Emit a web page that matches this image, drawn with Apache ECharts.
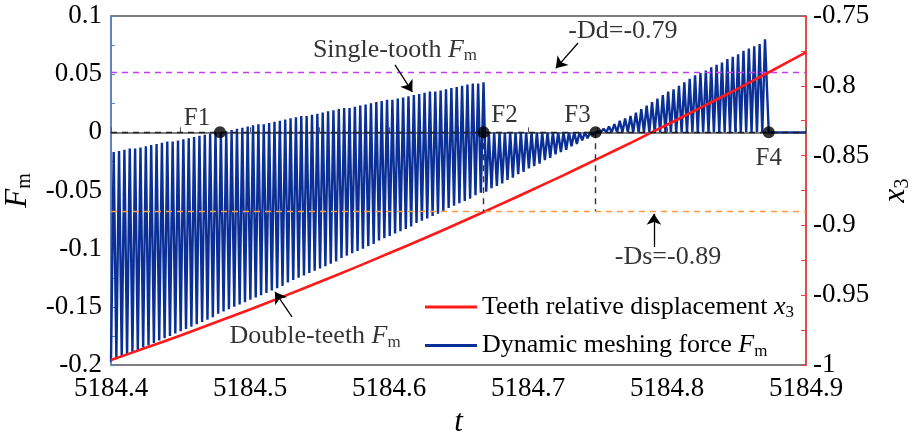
<!DOCTYPE html>
<html>
<head>
<meta charset="utf-8">
<script src="https://cdn.jsdelivr.net/npm/echarts@6/dist/echarts.min.js"></script>
<style>
  html, body { margin: 0; padding: 0; background: #fff; }
  #chart { width: 917px; height: 434px; }
</style>
</head>
<body>
<div id="chart"></div>
<script>
const FONT = 'Liberation Serif, Times New Roman, serif';

// Axis ranges
const tRange = [5184.4, 5184.9];
const forceRange = [-0.2, 0.1];
const dispRange = [-1, -0.75];

// Teeth relative displacement x3 (right axis)
const dispT = [5184.400, 5184.425, 5184.450, 5184.475, 5184.500, 5184.525, 5184.550,
  5184.575, 5184.600, 5184.625, 5184.650, 5184.675, 5184.700, 5184.725, 5184.750,
  5184.775, 5184.800, 5184.825, 5184.850, 5184.875, 5184.900];
const dispX3 = [-0.9964, -0.9877, -0.9788, -0.9696, -0.9602, -0.9505, -0.9406,
  -0.9304, -0.9200, -0.9094, -0.8985, -0.8873, -0.8759, -0.8643, -0.8524,
  -0.8403, -0.8279, -0.8153, -0.8025, -0.7894, -0.7760];

// Key meshing instants F1..F4 (all at Fm = 0) and the last single-tooth peak
const pointNames = ['F1', 'F2', 'F3', 'F4'];
const pointT = [5184.4784, 5184.6680, 5184.7486, 5184.8732];
const lastPeakT = 5184.8705;

// Dynamic meshing force, extremes of every mesh cycle
// stage 1 (start .. F2): single-tooth peaks and double-teeth troughs
const stage1Peak = [
  -0.017, -0.016, -0.015, -0.014, -0.014, -0.013, -0.012, -0.011, -0.010, -0.009,
  -0.008, -0.008, -0.007, -0.006, -0.005, -0.004, -0.003, -0.002, -0.001, 0.000,
  0.000, 0.001, 0.002, 0.003, 0.004, 0.005, 0.006, 0.007, 0.007, 0.008,
  0.009, 0.010, 0.011, 0.012, 0.013, 0.014, 0.014, 0.015, 0.016, 0.017,
  0.018, 0.019, 0.020, 0.021, 0.021, 0.022, 0.023, 0.024, 0.025, 0.026,
  0.027, 0.028, 0.028, 0.029, 0.030, 0.031, 0.032, 0.033, 0.034, 0.035,
  0.035, 0.036, 0.037, 0.038, 0.039, 0.040, 0.041, 0.042, 0.042, 0.043];
const stage1Trough = [
  -0.197, -0.195, -0.193, -0.191, -0.189, -0.187, -0.185, -0.183, -0.181, -0.179,
  -0.177, -0.175, -0.173, -0.171, -0.169, -0.167, -0.165, -0.163, -0.161, -0.159,
  -0.156, -0.154, -0.152, -0.150, -0.148, -0.146, -0.144, -0.142, -0.140, -0.138,
  -0.136, -0.134, -0.132, -0.129, -0.127, -0.125, -0.123, -0.121, -0.119, -0.117,
  -0.115, -0.113, -0.111, -0.108, -0.106, -0.104, -0.102, -0.100, -0.098, -0.096,
  -0.093, -0.091, -0.089, -0.087, -0.085, -0.083, -0.081, -0.078, -0.076, -0.074,
  -0.072, -0.070, -0.068, -0.065, -0.063, -0.061, -0.059, -0.057, -0.054, -0.052];
// stage 2 (F2 .. F3): troughs below zero, tops on zero
const stage2Trough = [-0.051, -0.048, -0.046, -0.044, -0.041, -0.039, -0.036,
  -0.034, -0.031, -0.029, -0.027, -0.024, -0.022, -0.019, -0.017, -0.015,
  -0.012, -0.010, -0.007, -0.005, -0.002];
// stage 3 (F3 .. F4): peaks above zero, troughs on zero
const stage3Peak = [0.001, 0.003, 0.005, 0.007, 0.010, 0.012, 0.014, 0.017,
  0.020, 0.023, 0.026, 0.029, 0.032, 0.035, 0.037, 0.040, 0.043, 0.046,
  0.049, 0.051, 0.053, 0.056, 0.058, 0.060, 0.063, 0.065, 0.067, 0.070,
  0.072, 0.074, 0.076, 0.080];

// Backlash limits on the displacement axis
const ddLevel = -0.79;
const dsLevel = -0.89;

// ---- build the force trace from the cycle extremes ----
const [f1, f2, f3, f4] = pointT;
const force = [];
const p1 = (f2 - tRange[0]) / (stage1Peak.length - 0.5);
stage1Peak.forEach((pk, i) => {
  force.push([tRange[0] + i * p1, stage1Trough[i]]);
  force.push([tRange[0] + (i + 0.5) * p1, pk]);
});
const p2 = (f3 - f2) / stage2Trough.length;
stage2Trough.forEach((tr, j) => {
  force.push([f2 + (j + 0.5) * p2, tr]);
  force.push([f2 + (j + 1) * p2, 0]);
});
const p3 = (lastPeakT - f3) / (stage3Peak.length - 0.5);
stage3Peak.forEach((pk, k) => {
  if (k > 0) force.push([f3 + k * p3, 0]);
  force.push([f3 + (k + 0.5) * p3, pk]);
});
force.push([f4, 0], [tRange[1], 0]);

const disp = dispT.map((t, i) => [t, dispX3[i]]);

// a displacement level expressed on the force axis (both axes share the plot height)
const dispToForce = v => forceRange[0] +
  (forceRange[1] - forceRange[0]) * (v - dispRange[0]) / (dispRange[1] - dispRange[0]);
const dsOnForce = dispToForce(dsLevel);

const RICH = {
  i: { fontFamily: FONT, fontStyle: 'italic', fontSize: 26, color: '#000' },
  s: { fontFamily: FONT, fontSize: 17, color: '#000', padding: [12, 0, 0, 0] }
};
const RICH_BIG = {
  i: { fontFamily: FONT, fontStyle: 'italic', fontSize: 31, color: '#000' },
  s: { fontFamily: FONT, fontSize: 20, color: '#000', padding: [14, 0, 0, 0] }
};

const RED_NAME = 'Teeth relative displacement x3';
const BLUE_NAME = 'Dynamic meshing force Fm';

// annotation texts and arrows, placed in (t, Fm) coordinates
const notes = [
  { text: 'Single-tooth {i|F}{s|m}', at: [5184.6043, 0.0708] },
  { text: '-Dd=-0.79', at: [5184.7683, 0.0871] },
  { text: '-Ds=-0.89', at: [5184.8007, -0.1072] },
  { text: 'Double-teeth {i|F}{s|m}', at: [5184.5468, -0.1752] }
];
const arrows = [
  [[5184.6043, 0.0579], [5184.6168, 0.0347]],
  [[5184.7360, 0.0768], [5184.7200, 0.0550]],
  [[5184.7906, -0.0986], [5184.7906, -0.0700]],
  [[5184.5302, -0.1587], [5184.5180, -0.1372]]
];

const dashed = (color) => ({ color, type: [6, 5], width: 1.4 });
const tickText = { fontFamily: FONT, fontSize: 27, color: '#000' };

const chart = echarts.init(document.getElementById('chart'), null, { renderer: 'canvas' });
chart.setOption({
  animation: false,
  backgroundColor: '#fff',
  textStyle: { fontFamily: FONT },
  grid: {
    left: 111, right: 111, top: 16, bottom: 69,
    outerBoundsMode: 'none',
    containLabel: false,
    show: true, borderColor: '#555', borderWidth: 1.5, backgroundColor: 'transparent'
  },
  legend: {
    orient: 'vertical',
    left: 420, top: 289,
    icon: 'rect',
    itemWidth: 52, itemHeight: 3, itemGap: 11,
    data: [RED_NAME, BLUE_NAME],
    formatter: n => n === RED_NAME
      ? 'Teeth relative displacement {i|x}{s|3}'
      : 'Dynamic meshing force {i|F}{s|m}',
    textStyle: { fontFamily: FONT, fontSize: 26, color: '#000', lineHeight: 26, rich: RICH }
  },
  xAxis: {
    type: 'value',
    min: tRange[0], max: tRange[1], interval: 0.1,
    name: 't', nameLocation: 'middle', nameGap: 40,
    nameTextStyle: { fontFamily: FONT, fontStyle: 'italic', fontSize: 31, color: '#000' },
    axisLine: { lineStyle: { color: '#555', width: 1.5 } },
    axisTick: { inside: true, length: 5, lineStyle: { color: '#555' } },
    minorTick: { show: true, splitNumber: 2, length: 5, lineStyle: { color: '#555' } },
    splitLine: { show: false },
    axisLabel: Object.assign({ margin: 10, formatter: v => v.toFixed(1) }, tickText)
  },
  yAxis: [{
    type: 'value',
    min: forceRange[0], max: forceRange[1], interval: 0.05,
    name: '{i|F}{s|m}', nameLocation: 'middle', nameGap: 62, nameRotate: 90,
    nameTextStyle: { rich: RICH_BIG },
    axisLine: { show: true, lineStyle: { color: '#5a86d6', width: 1.5 } },
    axisTick: { inside: true, length: 4, lineStyle: { color: '#5a86d6' } },
    minorTick: { show: true, splitNumber: 2, length: 4, lineStyle: { color: '#5a86d6' } },
    splitLine: { show: false },
    axisLabel: Object.assign({ margin: 9 }, tickText)
  }, {
    type: 'value', position: 'right',
    min: dispRange[0], max: dispRange[1], interval: 0.05,
    name: '{i|x}{s|3}', nameLocation: 'middle', nameGap: 70, nameRotate: 90,
    nameTextStyle: { rich: RICH_BIG },
    axisLine: { show: true, lineStyle: { color: '#ff3b3b', width: 1.5 } },
    axisTick: { inside: true, length: 5, lineStyle: { color: '#ff3b3b' } },
    minorTick: { show: true, splitNumber: 2, length: 5, lineStyle: { color: '#ff3b3b' } },
    splitLine: { show: false },
    axisLabel: Object.assign({ margin: 7 }, tickText)
  }],
  series: [{
    name: BLUE_NAME,
    type: 'line',
    data: force,
    symbol: 'none',
    sampling: null,
    z: 2,
    lineStyle: { color: '#0a2f97', width: 2.4 },
    itemStyle: { color: '#0a2f97' },
    markLine: {
      silent: true,
      symbol: 'none',
      label: { show: false },
      data: [
        { yAxis: 0, lineStyle: dashed('#222') },
        [{ coord: [f2, 0], lineStyle: dashed('#333') }, { coord: [f2, dsOnForce] }],
        [{ coord: [f3, 0], lineStyle: dashed('#333') }, { coord: [f3, dsOnForce] }]
      ]
    }
  }, {
    name: RED_NAME,
    type: 'line',
    yAxisIndex: 1,
    data: disp,
    symbol: 'none',
    smooth: 0.3,
    z: 3,
    lineStyle: { color: '#ff1a1a', width: 2.6 },
    itemStyle: { color: '#ff1a1a' },
    markLine: {
      silent: true,
      symbol: 'none',
      label: { show: false },
      data: [
        { yAxis: ddLevel, lineStyle: dashed('#c23cf5') },
        { yAxis: dsLevel, lineStyle: dashed('#ff9a40') }
      ]
    }
  }, {
    name: 'arrows',
    type: 'line',
    data: [],
    markLine: {
      silent: true,
      symbol: ['none', 'arrow'],
      symbolSize: 11,
      label: { show: false },
      lineStyle: { color: '#000', type: 'solid', width: 1.3 },
      data: arrows.map(a => [{ coord: a[0] }, { coord: a[1] }])
    }
  }, {
    name: 'key points',
    type: 'scatter',
    z: 10,
    symbolSize: 12,
    itemStyle: { color: '#000' },
    data: pointT.map((t, i) => ({
      value: [t, 0],
      name: pointNames[i],
      label: {
        show: true,
        formatter: pointNames[i],
        position: 'inside',
        offset: [[-23, -14], [21, -17], [-18, -17], [0, 26]][i],
        fontFamily: FONT, fontSize: 25, color: '#000'
      }
    }))
  }, {
    name: 'notes',
    type: 'scatter',
    z: 10,
    symbolSize: 0,
    silent: true,
    data: notes.map(n => ({
      value: n.at,
      label: {
        show: true, position: 'inside', formatter: n.text,
        fontFamily: FONT, fontSize: 26, color: '#000', rich: RICH
      }
    }))
  }]
});
</script>
</body>
</html>
